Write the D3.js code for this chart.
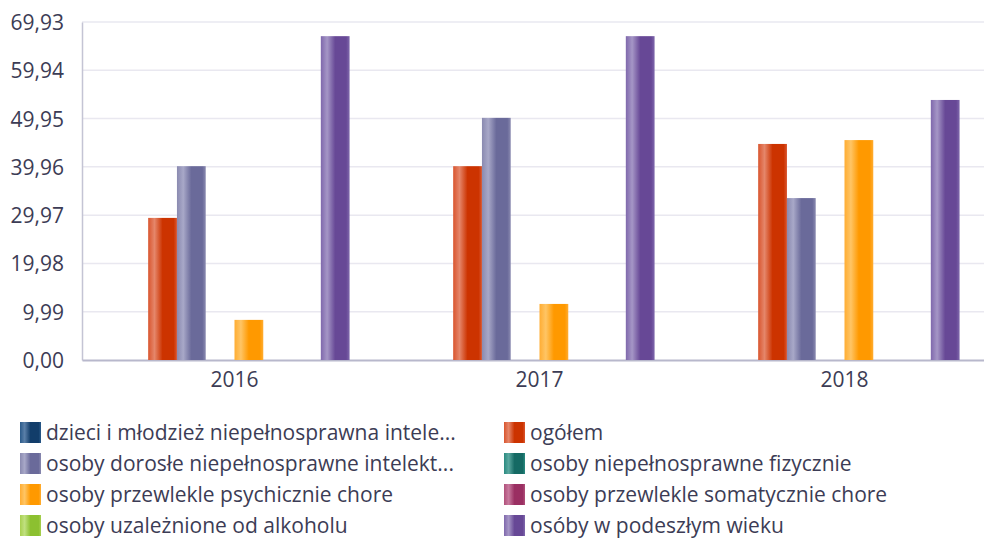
<!DOCTYPE html>
<html>
<head>
<meta charset="utf-8">
<script src="https://cdn.jsdelivr.net/npm/d3@7"></script>
<style>
  body { margin: 0; background: #fff; overflow: hidden; }
  svg { display: block; }
  svg text { font-family: "Open Sans", sans-serif; fill: #3c3c55; }
</style>
</head>
<body>
<div id="chart"></div>
<script>
// Chart data
var years = ["2016", "2017", "2018"];

var seriesNames = [
    "dzieci i młodzież niepełnosprawna intele...",
    "ogółem",
    "osoby dorosłe niepełnosprawne intelekt...",
    "osoby niepełnosprawne fizycznie",
    "osoby przewlekle psychicznie chore",
    "osoby przewlekle somatycznie chore",
    "osoby uzależnione od alkoholu",
    "osóby w podeszłym wieku"
];

// values per series, one per year (null = no bar)
var dzieci = [null, null, null];
var ogolem = [29.4, 40.1, 44.7];
var dorosle = [40.1, 50.1, 33.5];
var fizyczne = [null, null, null];
var psychiczne = [8.3, 11.6, 45.5];
var somatyczne = [null, null, null];
var alkohol = [null, null, null];
var podeszly = [67.0, 67.0, 53.8];

var yTicks = [0, 9.99, 19.98, 29.97, 39.96, 49.95, 59.94, 69.93];

// gradient stops per series: [edge, light, dark]
var seriesColors = [
    ["#2a5a8a", "#5a7fa8", "#123d6a"],
    ["#d9552e", "#e5866a", "#cc3300"],
    ["#8a8ab0", "#a8a8c8", "#6a6a9a"],
    ["#2a8a80", "#5aa8a0", "#156a64"],
    ["#ffad33", "#ffc565", "#ff9900"],
    ["#b0507a", "#c87a9e", "#9a2f62"],
    ["#a8d050", "#c0e080", "#8cc030"],
    ["#7f68ac", "#a596c6", "#674896"]
];

var allValues = [dzieci, ogolem, dorosle, fizyczne, psychiczne, somatyczne, alkohol, podeszly];

var svgWidth = 984;
var svgHeight = 538;

var margin = {top: 22, left: 82, bottom: 178, right: -13};
var plotRight = svgWidth - margin.right;
var plotBottom = svgHeight - margin.bottom;
var fontSize = "21px";

var svg = d3.select("#chart")
    .append("svg")
    .attr("width", svgWidth)
    .attr("height", svgHeight);

var defs = svg.append("defs");
seriesColors.forEach(function(c, i) {
    var g = defs.append("linearGradient")
        .attr("id", "grad" + i)
        .attr("x1", "0").attr("x2", "1").attr("y1", "0").attr("y2", "0");
    g.append("stop").attr("offset", "0%").attr("stop-color", c[0]);
    g.append("stop").attr("offset", "22%").attr("stop-color", c[1]);
    g.append("stop").attr("offset", "50%").attr("stop-color", c[2]);
    g.append("stop").attr("offset", "88%").attr("stop-color", c[2]);
    g.append("stop").attr("offset", "100%").attr("stop-color", c[0]);
});

var x0 = d3.scaleBand()
    .domain(years)
    .range([margin.left, plotRight])
    .padding(0);

var x1 = d3.scaleBand()
    .domain(d3.range(seriesNames.length))
    .range([0, x0.bandwidth()])
    .paddingInner(0)
    .paddingOuter(1.3);

var y = d3.scaleLinear()
    .domain([0, 69.93])
    .range([plotBottom, margin.top]);

var fmt = function(d) { return d.toFixed(2).replace(".", ","); };

// gridlines
svg.append("g")
    .selectAll("line")
    .data(yTicks.slice(1))
    .enter()
    .append("line")
    .attr("x1", margin.left)
    .attr("x2", plotRight)
    .attr("y1", d => y(d))
    .attr("y2", d => y(d))
    .attr("stroke", "#e9e8f0")
    .attr("stroke-width", 1.5);

// y axis
var yAxis = svg.append("g")
    .attr("transform", `translate(${margin.left},0)`)
    .call(d3.axisLeft(y).tickValues(yTicks).tickFormat(fmt).tickSize(0).tickPadding(18));
yAxis.attr("font-family", null).attr("font-size", fontSize);
yAxis.select(".domain").attr("stroke", "#c4c4d4").attr("stroke-width", 1.5);
yAxis.selectAll("text").attr("dy", "0.36em");

// x axis
var xAxis = svg.append("g")
    .attr("transform", `translate(0,${plotBottom})`)
    .call(d3.axisBottom(x0).tickSize(0).tickPadding(12));
xAxis.attr("font-family", null).attr("font-size", fontSize);
xAxis.select(".domain").attr("stroke", "#b8b8cc").attr("stroke-width", 2);

// bars
var bars = [];
years.forEach(function(yr, yi) {
    allValues.forEach(function(vals, si) {
        if (vals[yi] !== null) bars.push({year: yr, s: si, v: vals[yi]});
    });
});

svg.append("g")
    .selectAll("rect")
    .data(bars)
    .enter()
    .append("rect")
    .attr("x", d => x0(d.year) + x1(d.s))
    .attr("y", d => y(d.v))
    .attr("width", x1.bandwidth())
    .attr("height", d => y(0) - y(d.v))
    .attr("fill", d => `url(#grad${d.s})`);

// legend
var legend = svg.append("g");
var legendItems = legend.selectAll("g")
    .data(seriesNames)
    .enter()
    .append("g")
    .attr("transform", (d, i) => `translate(${i % 2 === 0 ? 20 : 504}, ${422 + Math.floor(i / 2) * 31})`);

legendItems.append("rect")
    .attr("width", 21)
    .attr("height", 21)
    .attr("fill", (d, i) => `url(#grad${i})`);

legendItems.append("text")
    .attr("x", 26)
    .attr("y", 18)
    .attr("font-size", fontSize)
    .text(d => d);
</script>
</body>
</html>
